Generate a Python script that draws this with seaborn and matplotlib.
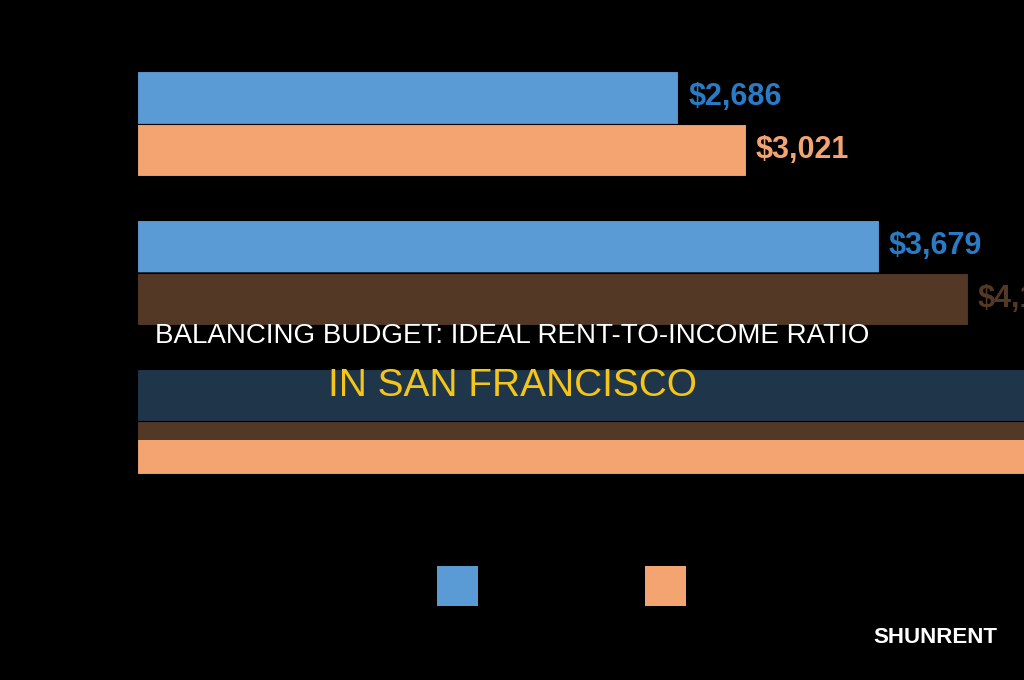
import matplotlib
matplotlib.use("Agg")
import matplotlib.pyplot as plt
from matplotlib.patches import Patch, Rectangle
import pandas as pd
import seaborn as sns

# data (third group runs past the right edge)
categories = ["Studio", "1 Bedroom", "2 Bedroom"]
series = ["Average Rent", "Affordable Rent"]
avg_rent = [2686, 3679, 4860]
affordable_rent = [3021, 4120, 5240]
value_labels_avg = ["$2,686", "$3,679", "$4,860"]
value_labels_aff = ["$3,021", "$4,120", "$5,240"]

bar_colors = ["#5B9BD5", "#F4A470"]
label_colors = ["#2A7BC6", "#F4A470"]

df = pd.DataFrame({
    "Unit": categories * 2,
    "Series": [series[0]] * 3 + [series[1]] * 3,
    "Rent": avg_rent + affordable_rent,
})

sns.set_style("dark")
plt.rcParams["font.family"] = ["Liberation Sans", "DejaVu Sans"]

fig = plt.figure(figsize=(10.24, 6.8), dpi=100, facecolor="black")
ax = fig.add_axes([137 / 1024, 1 - 496 / 680, 1 - 137 / 1024, 447 / 680])
ax.set_facecolor("black")

sns.barplot(data=df, y="Unit", x="Rent", hue="Series", orient="h",
            palette=bar_colors, saturation=1, width=0.7, ax=ax,
            edgecolor="black", linewidth=0.8, legend=False)

ax.set_xlim(0, 4400)
ax.set_ylim(2.5, -0.5)
ax.xaxis.grid(True, color="black", linewidth=1)
ax.set_axisbelow(True)
ax.set_xlabel("")
ax.set_ylabel("")
ax.tick_params(colors="black", length=0)
ax.set_xticklabels([])
for s in ax.spines.values():
    s.set_visible(False)

for cont, labels, col in zip(ax.containers, [value_labels_avg, value_labels_aff], label_colors):
    ax.bar_label(cont, labels=labels, padding=7, color=col, fontsize=22,
                 fontweight="bold", clip_on=True)

# legend (labels are black on black in the reference)
handles = [Patch(facecolor=c, edgecolor="none") for c in bar_colors]
fig.legend(handles, series, loc="upper left", ncol=2, frameon=False,
           bbox_to_anchor=(437 / 1024, 1 - 566 / 680), borderaxespad=0, borderpad=0,
           fontsize=14, handlelength=2.11, handleheight=2.79, handletextpad=0.5,
           columnspacing=1.94, labelcolor="black")

# dark banner behind the title
fig.patches.append(Rectangle((0, 1 - 440 / 680), 1, 168 / 680, transform=fig.transFigure,
                             facecolor="black", alpha=0.66, edgecolor="none", zorder=5))

fig.text(0.5, 1 - 343 / 680, "BALANCING BUDGET: IDEAL RENT-TO-INCOME RATIO",
         ha="center", va="baseline", color="white", fontsize=20, zorder=6)
fig.text(0.5, 1 - 396 / 680, "IN SAN FRANCISCO",
         ha="center", va="baseline", color="#F5C518", fontsize=28, zorder=6)

fig.text(997 / 1024, 1 - 643 / 680, "SHUNRENT", ha="right", va="baseline",
         color="white", fontsize=16, fontweight="bold", zorder=6)

fig.savefig("out.png", dpi=100, facecolor="black")
